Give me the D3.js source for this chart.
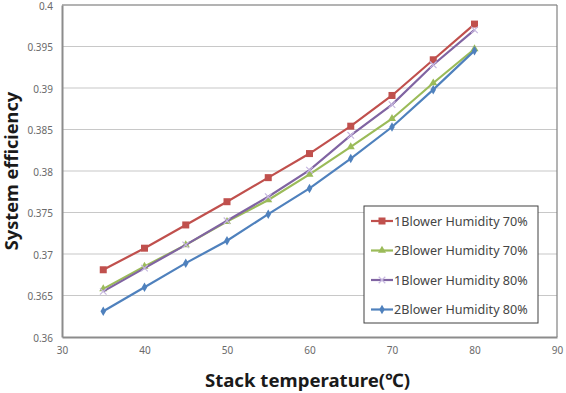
<!DOCTYPE html>
<html lang="en">
<head>
<meta charset="UTF-8">
<title>System efficiency vs stack temperature</title>
<script src="https://cdn.jsdelivr.net/npm/d3@7"></script>
<style>
  body { margin: 0; background: #fff; }
  text { font-family: "Noto Sans", "DejaVu Sans", sans-serif; }
</style>
</head>
<body>
<script>
// data
var temps = [35, 40, 45, 50, 55, 60, 65, 70, 75, 80];
var blower1Hum70 = [0.3681, 0.3707, 0.3735, 0.3763, 0.3792, 0.3821, 0.3854, 0.3891, 0.3934, 0.3977];
var blower2Hum70 = [0.3658, 0.3685, 0.3711, 0.3739, 0.3765, 0.3796, 0.3829, 0.3863, 0.3906, 0.3947];
var blower1Hum80 = [0.3655, 0.3683, 0.3711, 0.3740, 0.3769, 0.3801, 0.3843, 0.3880, 0.3928, 0.3970];
var blower2Hum80 = [0.3631, 0.3660, 0.3689, 0.3716, 0.3748, 0.3779, 0.3815, 0.3853, 0.3898, 0.3945];
var seriesNames = ["1Blower Humidity 70%", "2Blower Humidity 70%", "1Blower Humidity 80%", "2Blower Humidity 80%"];
var xTicks = [30, 40, 50, 60, 70, 80, 90];
var yTicks = [0.36, 0.365, 0.37, 0.375, 0.38, 0.385, 0.39, 0.395, 0.4];

var series = [
  { name: seriesNames[0], values: blower1Hum70, color: "#C0504D", marker: "square" },
  { name: seriesNames[1], values: blower2Hum70, color: "#9BBB59", marker: "triangle" },
  { name: seriesNames[2], values: blower1Hum80, color: "#8064A2", marker: "cross" },
  { name: seriesNames[3], values: blower2Hum80, color: "#4F81BD", marker: "diamond" }
];

var width = 566, height = 393;
// plot area edges (not "top": that is window.top)
var plotL = 62, plotR = 557, plotT = 5, plotB = 337;

var svg = d3.select("body").append("svg")
  .attr("width", width)
  .attr("height", height);

var x = d3.scaleLinear().domain([30, 90]).range([plotL, plotR]);
var y = d3.scaleLinear().domain([0.36, 0.4]).range([plotB, plotT]);

// gridlines
svg.append("g").selectAll("line")
  .data(yTicks.slice(1))
  .enter().append("line")
  .attr("x1", plotL).attr("x2", plotR)
  .attr("y1", function (d) { return y(d); })
  .attr("y2", function (d) { return y(d); })
  .attr("stroke", function (d) { return d === 0.4 ? "#9a9a9a" : "#c8c8c8"; })
  .attr("stroke-width", function (d) { return d === 0.4 ? 1.5 : 1.2; });

// right border
svg.append("line")
  .attr("x1", plotR).attr("x2", plotR).attr("y1", plotT).attr("y2", plotB)
  .attr("stroke", "#808080").attr("stroke-width", 1.2);

// axes
var xAxis = d3.axisBottom(x).tickValues(xTicks).tickSize(0).tickPadding(10);
var yAxis = d3.axisLeft(y).tickValues(yTicks).tickSize(0).tickPadding(9)
  .tickFormat(function (d) { return String(+d.toFixed(3)); });

var gx = svg.append("g").attr("transform", "translate(0," + plotB + ")").call(xAxis);
var gy = svg.append("g").attr("transform", "translate(" + plotL + ",0)").call(yAxis);
[gx, gy].forEach(function (g) {
  g.select(".domain").attr("stroke", "#8c8c8c").attr("stroke-width", 2);
  g.selectAll("text").attr("fill", "#6a6a6a").style("font-size", "10px");
});
gy.selectAll("text").attr("dy", "0.4em");

// lines and markers
var line = d3.line()
  .x(function (d, i) { return x(temps[i]); })
  .y(function (d) { return y(d); });

function drawMarker(g, type, color, cx, cy) {
  if (type === "square") {
    g.append("rect").attr("x", cx - 3.5).attr("y", cy - 3.5).attr("width", 7).attr("height", 7).attr("fill", color);
  } else if (type === "triangle") {
    g.append("path").attr("d", d3.symbol().type(d3.symbolTriangle).size(28)()).attr("transform", "translate(" + cx + "," + cy + ")").attr("fill", color);
  } else if (type === "cross") {
    g.append("path").attr("d", d3.symbol().type(d3.symbolX).size(30)()).attr("transform", "translate(" + cx + "," + cy + ")").attr("stroke", "#c7b8e0").attr("stroke-width", 1.2).attr("fill", "none");
  } else {
    g.append("path").attr("d", d3.symbol().type(d3.symbolDiamond).size(26)()).attr("transform", "translate(" + cx + "," + cy + ")").attr("fill", color);
  }
}

series.forEach(function (s) {
  var g = svg.append("g");
  g.append("path")
    .attr("d", line(s.values))
    .attr("fill", "none")
    .attr("stroke", s.color)
    .attr("stroke-width", 2.2);
  s.values.forEach(function (v, i) {
    drawMarker(g, s.marker, s.color, x(temps[i]), y(v));
  });
});

// legend
var lg = svg.append("g").attr("transform", "translate(364,206)");
lg.append("rect").attr("width", 174).attr("height", 117)
  .attr("fill", "#fff").attr("stroke", "#404040").attr("stroke-width", 1);
series.forEach(function (s, i) {
  var yy = 15 + i * 29.5;
  lg.append("line").attr("x1", 7).attr("x2", 29).attr("y1", yy).attr("y2", yy)
    .attr("stroke", s.color).attr("stroke-width", 2.2);
  drawMarker(lg, s.marker, s.color, 18, yy);
  lg.append("text").attr("x", 30).attr("y", yy + 4.5)
    .attr("fill", "#454545").style("font-size", "12.6px")
    .text(s.name);
});

// axis titles
svg.append("text")
  .attr("x", (plotL + plotR) / 2 - 2).attr("y", 387)
  .attr("text-anchor", "middle")
  .style("font-size", "18.6px").style("font-weight", "bold")
  .attr("fill", "#1a1a1a")
  .text("Stack temperature(℃)");

svg.append("text")
  .attr("transform", "translate(18," + (plotT + plotB) / 2 + ") rotate(-90)")
  .attr("text-anchor", "middle")
  .style("font-size", "18.2px").style("font-weight", "bold")
  .attr("fill", "#1a1a1a")
  .text("System efficiency");
</script>
</body>
</html>
